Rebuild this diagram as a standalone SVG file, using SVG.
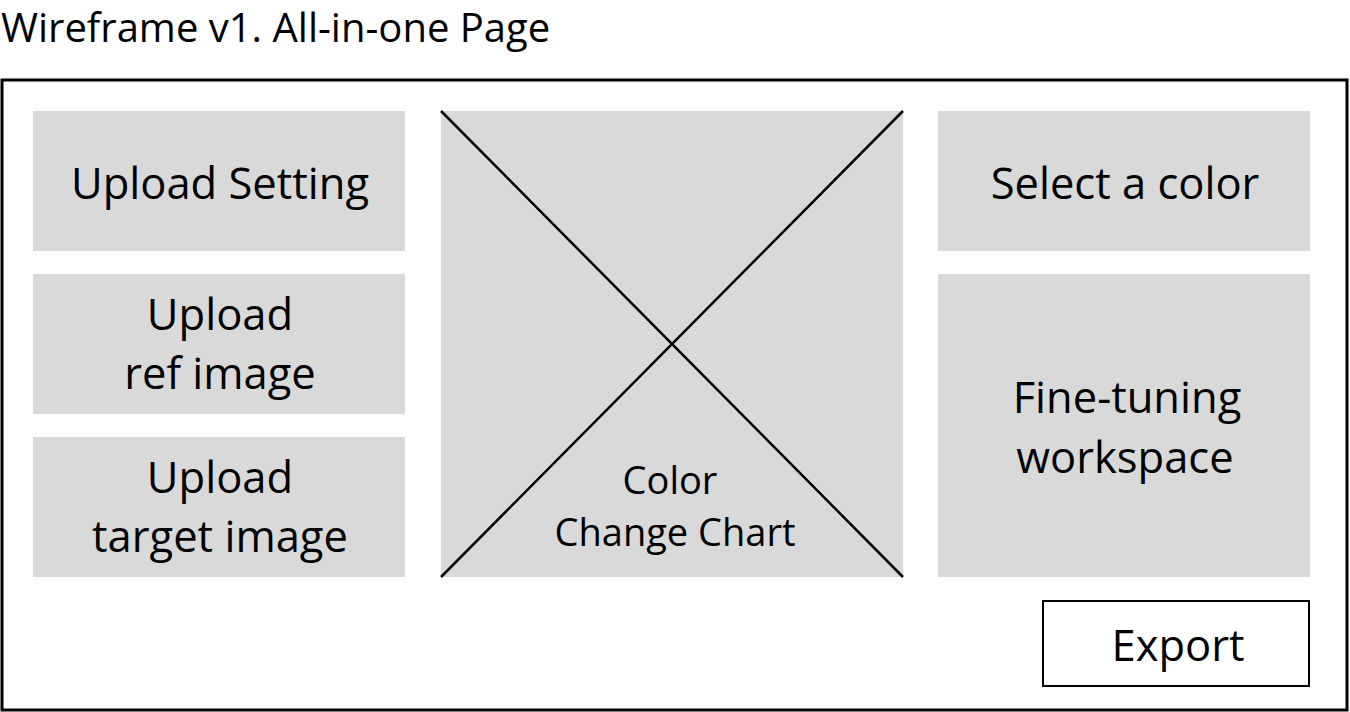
<svg xmlns="http://www.w3.org/2000/svg" width="1350" height="712" viewBox="0 0 1350 712">
<style>
.box{fill:#d9d9d9;}
.t{font-family:"Open Sans",sans-serif;fill:#000;text-anchor:middle;}
.big{font-size:43.5px;}
.mid{font-size:38px;}
.x{stroke:#000;stroke-width:2.5;}
</style>
<rect width="1350" height="712" fill="#fff"/>
<text x="1" y="42" font-family="Open Sans, sans-serif" font-size="40" fill="#000">Wireframe v1. All-in-one Page</text>
<rect id="frame" x="2" y="80" width="1345" height="630" fill="none" stroke="#000" stroke-width="3"/>
<g id="upload-setting"><rect class="box" x="33" y="111" width="372" height="140"/><text class="t big" x="220" y="199">Upload Setting</text></g>
<g id="upload-ref"><rect class="box" x="33" y="274" width="372" height="140"/><text class="t big" x="220" y="330">Upload</text><text class="t big" x="220" y="389">ref image</text></g>
<g id="upload-target"><rect class="box" x="33" y="437" width="372" height="140"/><text class="t big" x="220" y="493">Upload</text><text class="t big" x="220" y="552">target image</text></g>
<g id="chart"><rect class="box" x="441" y="111" width="462" height="466"/>
<line class="x" x1="441" y1="111" x2="903" y2="577"/>
<line class="x" x1="903" y1="111" x2="441" y2="577"/>
<text class="t mid" x="670" y="494">Color</text><text class="t mid" x="675" y="546">Change Chart</text></g>
<g id="select-color"><rect class="box" x="938" y="111" width="372" height="140"/><text class="t big" x="1125" y="199">Select a color</text></g>
<g id="fine-tuning"><rect class="box" x="938" y="274" width="372" height="303"/><text class="t big" x="1127" y="413">Fine-tuning</text><text class="t big" x="1125" y="473">workspace</text></g>
<g id="export"><rect x="1043" y="601" width="266" height="85" fill="#fff" stroke="#000" stroke-width="2"/><text class="t big" x="1178" y="661">Export</text></g>
<g id="connectors"></g>
</svg>
